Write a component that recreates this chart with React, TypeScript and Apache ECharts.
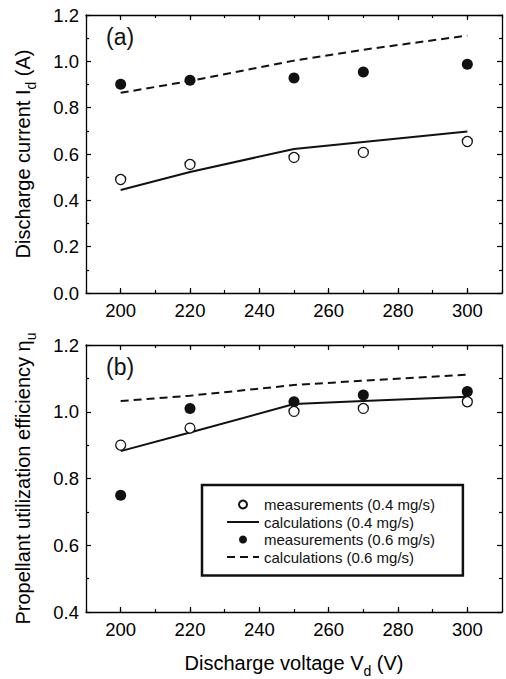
import React, { useEffect, useRef } from "react";
import * as echarts from "echarts";

const voltages = [200, 220, 250, 270, 300];
// (a) discharge current (A)
const currentMeas04 = [0.49, 0.555, 0.585, 0.607, 0.654];
const currentCalc04 = [0.445, 0.522, 0.622, 0.652, 0.697];
const currentMeas06 = [0.901, 0.918, 0.928, 0.954, 0.987];
const currentCalc06 = [0.864, 0.915, 1.003, 1.05, 1.111];
// (b) propellant utilization efficiency
const effMeas04 = [0.9, 0.951, 1.001, 1.01, 1.03];
const effCalc04 = [0.882, 0.938, 1.023, 1.032, 1.045];
const effMeas06 = [0.75, 1.01, 1.03, 1.05, 1.061];
const effCalc06 = [1.032, 1.048, 1.08, 1.093, 1.111];

const xMajorTicks = [200, 220, 240, 260, 280, 300];
const xRange = [190, 310];
const yRangeA = [0, 1.2];
const yRangeB = [0.4, 1.2];

const names = [
  "measurements (0.4 mg/s)",
  "calculations (0.4 mg/s)",
  "measurements (0.6 mg/s)",
  "calculations (0.6 mg/s)",
];

const FONT = "'Liberation Sans', Arial, Helvetica, sans-serif";

function pairs(xs: number[], ys: number[]) {
  return xs.map((x, i) => [x, ys[i]]);
}

export default function App() {
  const ref = useRef<HTMLDivElement>(null);
  useEffect(() => {
    if (!ref.current) return;
    const chart = echarts.init(ref.current, null, { renderer: "svg" });
    const axisLine = { show: true, onZero: false, lineStyle: { color: "#000", width: 1.3 } };
    const grids = [
      { left: 86, top: 15, width: 416, height: 278 },
      { left: 86, top: 345, width: 416, height: 278 },
    ];
    const titleStyle = {
      fontSize: 20,
      color: "#000",
      fontFamily: FONT,
      rich: { sub: { fontSize: 14, color: "#000", fontFamily: FONT, padding: [16, 0, 0, 0] } },
    };
    const xAxis: any[] = [];
    const yAxis: any[] = [];
    grids.forEach((_, g) => {
      const base = {
        gridIndex: g,
        type: "value",
        min: xRange[0],
        max: xRange[1],
        splitLine: { show: false },
      };
      xAxis.push({
        ...base,
        position: "bottom",
        axisLine,
        axisTick: { show: true, inside: true, length: 5, customValues: xMajorTicks, lineStyle: { color: "#000", width: 1.2 } },
        axisLabel: { show: true, customValues: xMajorTicks, fontSize: 18.5, color: "#000", fontFamily: FONT, margin: 8 },
        ...(g === 1
          ? {
              name: "Discharge voltage V{sub|d} (V)",
              nameLocation: "middle",
              nameGap: 36,
              nameTextStyle: titleStyle,
            }
          : {}),
      });
      xAxis.push({
        ...base,
        position: "bottom",
        interval: 10,
        axisLine: { show: false, onZero: false },
        axisTick: { show: true, inside: true, length: 3, lineStyle: { color: "#000", width: 1.2 } },
        axisLabel: { show: false },
      });
      xAxis.push({
        ...base,
        position: "top",
        axisLine,
        axisTick: { show: true, inside: true, length: 5, customValues: xMajorTicks, lineStyle: { color: "#000", width: 1.2 } },
        axisLabel: { show: false },
      });
      xAxis.push({
        ...base,
        position: "top",
        interval: 10,
        axisLine: { show: false, onZero: false },
        axisTick: { show: true, inside: true, length: 3, lineStyle: { color: "#000", width: 1.2 } },
        axisLabel: { show: false },
      });
      const yr = g === 0 ? yRangeA : yRangeB;
      const ybase = {
        gridIndex: g,
        type: "value",
        min: yr[0],
        max: yr[1],
        interval: 0.2,
        splitLine: { show: false },
        axisLine,
        axisTick: { show: true, inside: true, length: 5, lineStyle: { color: "#000", width: 1.2 } },
        minorTick: { show: true, splitNumber: 2, length: 3, lineStyle: { color: "#000", width: 1.2 } },
      };
      yAxis.push({
        ...ybase,
        position: "left",
        axisLabel: {
          show: true,
          fontSize: 18.5,
          color: "#000",
          fontFamily: FONT,
          margin: 7,
          formatter: (v: number) => v.toFixed(1),
        },
        name: g === 0 ? "Discharge current I{sub|d} (A)" : "Propellant utilization efficiency \u03b7{sub|u}",
        nameLocation: "middle",
        nameGap: 48,
        nameRotate: 90,
        nameTextStyle: titleStyle,
      });
      yAxis.push({
        ...ybase,
        position: "right",
        axisLabel: { show: false },
      });
    });

    const openStyle = { color: "#fff", borderColor: "#111", borderWidth: 1.3, opacity: 1 };
    const filledStyle = { color: "#111", borderColor: "#111", borderWidth: 0, opacity: 1 };
    const mk = (g: number, d: number[][][]) => [
      {
        name: names[0],
        type: "scatter",
        xAxisIndex: g * 4,
        yAxisIndex: g * 2,
        data: d[0],
        symbol: "circle",
        symbolSize: 10,
        itemStyle: openStyle,
        z: 5,
      },
      {
        name: names[1],
        type: "line",
        xAxisIndex: g * 4,
        yAxisIndex: g * 2,
        data: d[1],
        symbol: "none",
        showSymbol: false,
        itemStyle: { color: "#111" },
        lineStyle: { color: "#111", width: 2, type: "solid" },
        z: 3,
      },
      {
        name: names[2],
        type: "scatter",
        xAxisIndex: g * 4,
        yAxisIndex: g * 2,
        data: d[2],
        symbol: "circle",
        symbolSize: 11,
        itemStyle: filledStyle,
        z: 4,
      },
      {
        name: names[3],
        type: "line",
        xAxisIndex: g * 4,
        yAxisIndex: g * 2,
        data: d[3],
        symbol: "none",
        showSymbol: false,
        itemStyle: { color: "#111" },
        lineStyle: { color: "#111", width: 2, type: [8, 5] },
        z: 3,
      },
    ];

    const series = [
      ...mk(0, [
        pairs(voltages, currentMeas04),
        pairs(voltages, currentCalc04),
        pairs(voltages, currentMeas06),
        pairs(voltages, currentCalc06),
      ]),
      ...mk(1, [
        pairs(voltages, effMeas04),
        pairs(voltages, effCalc04),
        pairs(voltages, effMeas06),
        pairs(voltages, effCalc06),
      ]),
    ];

    chart.setOption({
      animation: false,
      backgroundColor: "#fff",
      grid: grids,
      xAxis,
      yAxis,
      series,
      legend: {
        data: [
          { name: names[0] },
          { name: names[1], icon: "path://M0,0H32V2H0Z", itemStyle: { color: "#111", borderWidth: 0 } },
          { name: names[2] },
          {
            name: names[3],
            icon: "path://M0,0H8V2H0Z M13,0H21V2H13Z M26,0H32V2H26Z",
            itemStyle: { color: "#111", borderWidth: 0 },
          },
        ],
        orient: "vertical",
        left: 202,
        top: 485,
        itemWidth: 32,
        itemHeight: 8,
        itemGap: 2.5,
        padding: [12, 28, 11, 25],
        borderColor: "#111",
        borderWidth: 2.5,
        borderRadius: 0,
        selectedMode: false,
        textStyle: { fontSize: 15, color: "#111", fontFamily: FONT },
      },
      graphic: [
        {
          type: "text",
          left: 106,
          top: 25,
          style: { text: "(a)", fontSize: 23, fill: "#111", fontFamily: FONT },
        },
        {
          type: "text",
          left: 106,
          top: 355,
          style: { text: "(b)", fontSize: 23, fill: "#111", fontFamily: FONT },
        },
      ],
    });
    return () => chart.dispose();
  }, []);
  return (
    <div
      ref={ref}
      style={{ position: "fixed", left: 0, top: 0, width: 506, height: 679, background: "#fff" }}
    />
  );
}
